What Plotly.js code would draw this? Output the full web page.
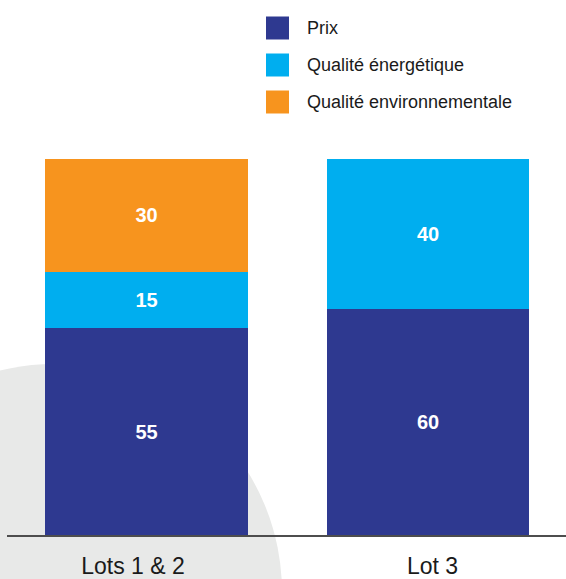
<!DOCTYPE html>
<html>
<head>
<meta charset="utf-8">
<script src="https://cdn.plot.ly/plotly-3.0.1.min.js"></script>
<style>html,body{margin:0;padding:0;background:#fff;}#chart{width:566px;height:579px;}</style>
</head>
<body>
<div id="chart"></div>
<script>
// Data
var categories = ["Lots 1 & 2", "Lot 3"];
var seriesNames = ["Prix", "Qualité énergétique", "Qualité environnementale"];
var prix = [55, 60];
var qualiteEnergetique = [15, 40];
var qualiteEnvironnementale = [30, null];
var seriesColors = ["#2e3990", "#00aeef", "#f7941e"];

var W = 566, H = 579;
var ML = 7, MR = 0, MT = 159, MB = 44;
var PW = W - ML - MR, PH = H - MT - MB;
function px(x) { return (x - ML) / PW; }
function py(y) { return (H - MB - y) / PH; }

var values = [prix, qualiteEnergetique, qualiteEnvironnementale];
var traces = values.map(function (v, i) {
  return {
    type: "bar",
    x: categories,
    y: v,
    name: seriesNames[i],
    marker: { color: seriesColors[i], line: { width: 0 } },
    width: 0.721,
    texttemplate: "%{y}",
    textposition: "inside",
    insidetextanchor: "middle",
    textangle: 0,
    textfont: { family: "Liberation Sans, Arial, sans-serif", size: 20, color: "#ffffff", weight: "bold" },
    hoverinfo: "skip",
    showlegend: false
  };
});

var shapes = [
  { type: "circle", xref: "paper", yref: "paper", layer: "below",
    x0: px(54 - 228), x1: px(54 + 228), y0: py(592 + 228), y1: py(592 - 228),
    fillcolor: "#e8e9e8", line: { width: 0 } }
];
var annotations = [];
var rowY = [28, 65, 102];
seriesNames.forEach(function (n, i) {
  shapes.push({ type: "rect", xref: "paper", yref: "paper",
    x0: px(266), x1: px(289), y0: py(rowY[i] + 11.5), y1: py(rowY[i] - 11.5),
    fillcolor: seriesColors[i], line: { width: 0 } });
  annotations.push({ xref: "paper", yref: "paper", x: px(305), y: py(rowY[i]),
    xanchor: "left", yanchor: "middle", showarrow: false, text: n,
    font: { family: "Liberation Sans, Arial, sans-serif", size: 18, color: "#1a1a1a" } });
});

var layout = {
  width: W, height: H,
  margin: { l: ML, r: MR, t: MT, b: MB, pad: 0 },
  paper_bgcolor: "rgba(0,0,0,0)",
  plot_bgcolor: "rgba(0,0,0,0)",
  barmode: "stack",
  showlegend: false,
  xaxis: {
    type: "category",
    range: [(ML - 146.5) / 281.5, (W - MR - 146.5) / 281.5],
    showgrid: false, zeroline: false,
    showline: true, linecolor: "#4d4d4d", linewidth: 1.5,
    tickmode: "array", tickvals: [-0.048, 1.016], ticktext: categories,
    ticks: "", ticklabelstandoff: 10,
    tickfont: { family: "Liberation Sans, Arial, sans-serif", size: 23, color: "#1a1a1a" },
    fixedrange: true
  },
  yaxis: {
    range: [0, 100], visible: false, showgrid: false, zeroline: false, fixedrange: true
  },
  shapes: shapes,
  annotations: annotations,
  uniformtext: { mode: false }
};

Plotly.newPlot("chart", traces, layout, { displayModeBar: false, staticPlot: true });
</script>
</body>
</html>
